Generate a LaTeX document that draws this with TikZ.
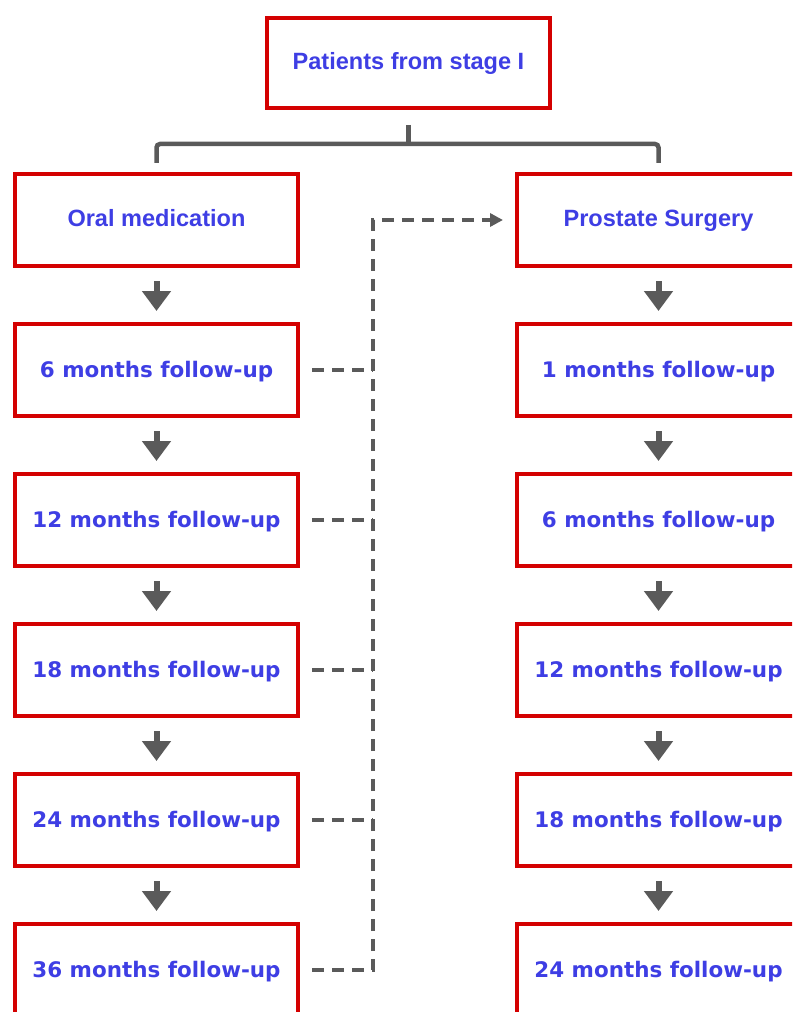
\documentclass[tikz,border=0pt]{standalone}
\usepackage{fontspec}
\newfontfamily\headfont{Liberation Sans}
\newfontfamily\followfont{DejaVu Sans}
\usetikzlibrary{arrows.meta}
\definecolor{boxred}{RGB}{212,0,0}
\definecolor{textblue}{RGB}{62,62,228}
\definecolor{linegray}{RGB}{90,90,90}
\tikzset{
    stagebox/.style={rectangle,draw=boxred,line width=0.08cm,minimum width=5.66cm,minimum height=1.84cm,inner sep=0pt,text=textblue,text height=0.73em,text depth=0pt,font=\headfont\fontsize{13.4}{16}\bfseries},
    followbox/.style={stagebox,text height=1.09em,text depth=0.2em,font=\followfont\fontsize{12.2}{15}\bfseries},
    flowarrow/.style={draw=linegray,line width=0.12cm,-{Triangle[length=0.4cm,width=0.56cm]},shorten <=0.26cm,shorten >=0.22cm},
    bracketline/.style={draw=linegray,line width=0.09cm,rounded corners=2pt},
    dashlink/.style={draw=linegray,line width=0.08cm,dash pattern=on 0.24cm off 0.16cm},
}
\begin{document}
\begin{tikzpicture}
		\useasboundingbox (0,0) rectangle (15.84,-20.24);
		\clip (0,0) rectangle (15.84,-20.24);

		\node[stagebox,minimum height=1.8cm] (top) at (8.17,-1.26) {Patients from stage I};

		\node[stagebox] (oral) at (3.13,-4.4) {Oral medication};
		\node[followbox] (m6l) at (3.13,-7.4) {6 months follow-up};
		\node[followbox] (m12l) at (3.13,-10.4) {12 months follow-up};
		\node[followbox] (m18l) at (3.13,-13.4) {18 months follow-up};
		\node[followbox] (m24l) at (3.13,-16.4) {24 months follow-up};
		\node[followbox] (m36l) at (3.13,-19.4) {36 months follow-up};

		\node[stagebox] (surg) at (13.17,-4.4) {Prostate Surgery};
		\node[followbox] (m1r) at (13.17,-7.4) {1 months follow-up};
		\node[followbox] (m6r) at (13.17,-10.4) {6 months follow-up};
		\node[followbox] (m12r) at (13.17,-13.4) {12 months follow-up};
		\node[followbox] (m18r) at (13.17,-16.4) {18 months follow-up};
		\node[followbox] (m24r) at (13.17,-19.4) {24 months follow-up};

		\draw[bracketline] ([yshift=-0.3cm]top.south) -- ++(0,-0.38cm);
		\draw[bracketline] ([yshift=0.18cm]oral.north) -- ([yshift=0.56cm]oral.north) -| ([yshift=0.18cm]surg.north);

		\draw[flowarrow] (oral) -- (m6l);
		\draw[flowarrow] (m6l) -- (m12l);
		\draw[flowarrow] (m12l) -- (m18l);
		\draw[flowarrow] (m18l) -- (m24l);
		\draw[flowarrow] (m24l) -- (m36l);

		\draw[flowarrow] (surg) -- (m1r);
		\draw[flowarrow] (m1r) -- (m6r);
		\draw[flowarrow] (m6r) -- (m12r);
		\draw[flowarrow] (m12r) -- (m18r);
		\draw[flowarrow] (m18r) -- (m24r);

		\coordinate (trunk) at (7.46,0);
		\draw[dashlink] ([xshift=0.24cm]m6l.east) -- (m6l.east -| trunk);
		\draw[dashlink] ([xshift=0.24cm]m12l.east) -- (m12l.east -| trunk);
		\draw[dashlink] ([xshift=0.24cm]m18l.east) -- (m18l.east -| trunk);
		\draw[dashlink] ([xshift=0.24cm]m24l.east) -- (m24l.east -| trunk);
		\draw[dashlink,-{Triangle[length=0.26cm,width=0.26cm]},shorten >=0.24cm] ([xshift=0.24cm]m36l.east) -| (trunk |- surg.west) -- (surg.west);
	\end{tikzpicture}
\end{document}
